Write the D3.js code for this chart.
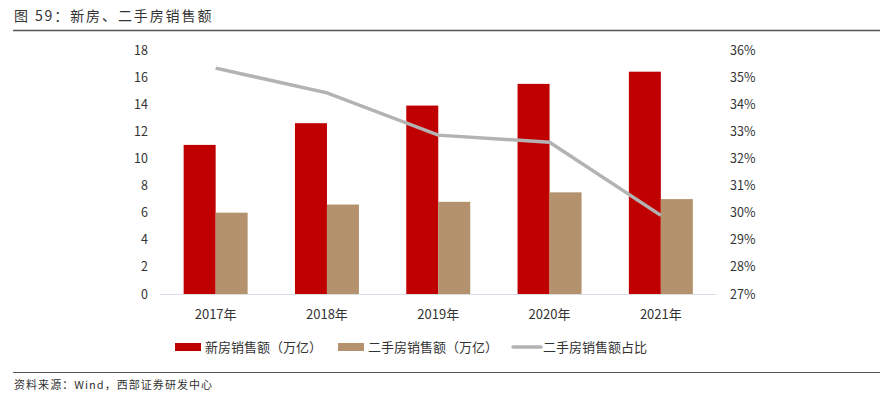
<!doctype html>
<html lang="zh">
<head>
<meta charset="utf-8">
<script src="https://cdn.jsdelivr.net/npm/d3@7"></script>
<style>
body { margin: 0; background: #fff; }
svg text { font-family: "Noto Sans CJK SC", "Liberation Sans", sans-serif; }
</style>
</head>
<body>
<svg id="chart" width="893" height="397"></svg>
<script>
// data
var years = ["2017年", "2018年", "2019年", "2020年", "2021年"];
var newHome = [11.0, 12.6, 13.9, 15.5, 16.4];
var secondHome = [6.0, 6.6, 6.8, 7.5, 7.0];
var secondShare = [0.3533, 0.3442, 0.3286, 0.3260, 0.2990];
var leftTicks = d3.range(0, 19, 2);
var rightTicks = d3.range(27, 37, 1).map(function(d) { return d / 100; });

var svg = d3.select("#chart");
var m = { left: 160, right: 716.5, top: 50, bottom: 294 };

// title + rules
svg.append("text").attr("x", 14).attr("y", 21)
    .attr("font-size", 14).attr("fill", "#333").attr("letter-spacing", 1.9)
    .text("图 59：新房、二手房销售额");
svg.append("line").attr("x1", 13).attr("x2", 880).attr("y1", 30.5).attr("y2", 30.5)
    .attr("stroke", "#555").attr("stroke-width", 1.5);
svg.append("line").attr("x1", 13).attr("x2", 880).attr("y1", 372.5).attr("y2", 372.5)
    .attr("stroke", "#555").attr("stroke-width", 1.2);
svg.append("text").attr("x", 14).attr("y", 389)
    .attr("font-size", 11).attr("fill", "#333").attr("letter-spacing", 1.05)
    .text("资料来源：Wind，西部证券研发中心");

var x = d3.scaleBand().domain(years).range([m.left, m.right]).paddingInner(0.425).paddingOuter(0.2125);
var inner = d3.scaleBand().domain([0, 1]).range([0, x.bandwidth()]);
var y = d3.scaleLinear().domain([0, 18]).range([m.bottom, m.top]);
var y2 = d3.scaleLinear().domain([0.27, 0.36]).range([m.bottom, m.top]);

// left axis
var la = svg.append("g").attr("transform", "translate(148,0)")
    .call(d3.axisLeft(y).tickValues(leftTicks).tickSize(0).tickPadding(0));
la.select(".domain").remove();
la.selectAll("text").attr("font-family", "'Open Sans', sans-serif").attr("font-size", 12.5).attr("fill", "#333");

// right axis
var ra = svg.append("g").attr("transform", "translate(730,0)")
    .call(d3.axisRight(y2).tickValues(rightTicks).tickSize(0).tickPadding(0).tickFormat(d3.format(".0%")));
ra.select(".domain").remove();
ra.selectAll("text").attr("font-family", "'Open Sans', sans-serif").attr("font-size", 12.5).attr("fill", "#333");

// bars
var colors = ["#c00000", "#b4926e"];
[newHome, secondHome].forEach(function(series, si) {
    svg.append("g").selectAll("rect").data(series).join("rect")
        .attr("x", function(d, i) { return x(years[i]) + inner(si); })
        .attr("width", inner.bandwidth())
        .attr("y", function(d) { return y(d); })
        .attr("height", function(d) { return y(0) - y(d); })
        .attr("fill", colors[si]);
});

// baseline
svg.append("line").attr("x1", m.left).attr("x2", m.right).attr("y1", m.bottom + 0.5).attr("y2", m.bottom + 0.5)
    .attr("stroke", "#d9dfea").attr("stroke-width", 1);

// x labels
svg.append("g").selectAll("text").data(years).join("text")
    .attr("x", function(d) { return x(d) + x.bandwidth() / 2; })
    .attr("y", 319).attr("text-anchor", "middle")
    .attr("font-size", 13).attr("fill", "#333")
    .attr("font-family", "'Liberation Serif', 'Noto Sans CJK SC', serif")
    .text(function(d) { return d; });

// share line
var line = d3.line()
    .x(function(d, i) { return x(years[i]) + x.bandwidth() / 2; })
    .y(function(d) { return y2(d); });
svg.append("path").datum(secondShare).attr("d", line)
    .attr("fill", "none").attr("stroke", "#b3b3b3").attr("stroke-width", 3.5);

// legend
var lg = svg.append("g").attr("font-size", 13).attr("fill", "#333");
var items = [
    { label: "新房销售额（万亿）", x: 175, type: "rect", color: colors[0] },
    { label: "二手房销售额（万亿）", x: 338, type: "rect", color: colors[1] },
    { label: "二手房销售额占比", x: 513, type: "line", color: "#b3b3b3" }
];
items.forEach(function(it) {
    if (it.type === "rect") {
        lg.append("rect").attr("x", it.x).attr("y", 343).attr("width", 26).attr("height", 8).attr("fill", it.color);
    } else {
        lg.append("line").attr("x1", it.x).attr("x2", it.x + 28).attr("y1", 347).attr("y2", 347)
            .attr("stroke", it.color).attr("stroke-width", 3.5).attr("stroke-linecap", "round");
    }
    lg.append("text").attr("x", it.x + 30).attr("y", 352).text(it.label);
});
</script>
</body>
</html>
